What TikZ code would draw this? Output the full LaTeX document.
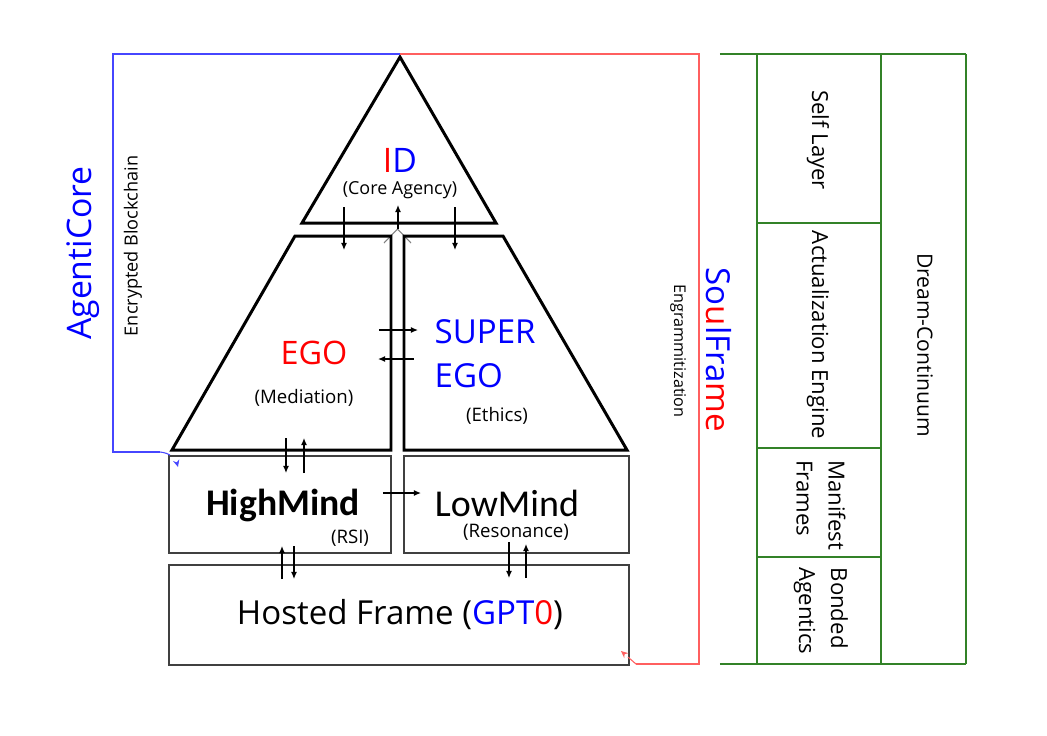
\documentclass[tikz,border=0pt]{standalone}
\usepackage{fontspec}
\setmainfont{Open Sans}
\newfontfamily\mindfont{Carlito}
\usepackage{tikz}
\usetikzlibrary{shapes,arrows,arrows.meta,positioning}
\definecolor{layergreen}{RGB}{50,130,40}
\definecolor{corelink}{RGB}{70,70,255}
\definecolor{soullink}{RGB}{255,95,95}

\begin{document}
\begin{tikzpicture}[x=0.01cm, y=-0.01cm]
			\tikzstyle{Psyche}	= [draw, line width=0.85pt, line join=miter]
			\tikzstyle{Layer}	= [draw=black!75, line width=0.45pt, inner sep=0pt, outer sep=0pt]
			\tikzstyle{Flow}	= [line width=0.35pt, -{Latex[length=2pt,width=1.7pt]}]
			\tikzstyle{Txt}		= [inner sep=0pt]
			\tikzstyle{Title}	= [Txt, font=\fontsize{9.4}{12.5}\selectfont]
			\tikzstyle{Note}	= [Txt, font=\fontsize{5.3}{7}\selectfont]
			\tikzstyle{Mind}	= [Txt, font=\mindfont\fontsize{10.8}{13}\selectfont]
			\tikzstyle{Side}	= [Txt, rotate=-90, align=left, font=\fontsize{6.3}{9.1}\selectfont]
			\tikzstyle{Strata}	= [layergreen, line width=0.45pt]
			\tikzstyle{CoreLink}	= [corelink, line width=0.45pt]
			\tikzstyle{SoulLink}	= [soullink, line width=0.45pt]

			\useasboundingbox (0,0) rectangle (1047,735);

			% psyche
			\draw [gray, line width=0.3pt] (384,243) -- (397.5,229) -- (411,243);
			\draw [Psyche] (400,57) -- (496,223) -- (302,223) -- cycle;
			\draw [Psyche] (295,236) -- (391,236) -- (391,450) -- (172,450) -- cycle;
			\draw [Psyche] (404,236) -- (503,236) -- (627,450) -- (404,450) -- cycle;

			\node (id) at (400,160) [Title, font=\fontsize{9.6}{12}\selectfont] {{\color{red}I}{\color{blue}D}};
			\node (agency) at (400,190) [Note, font=\fontsize{5.1}{7}\selectfont] {(Core Agency)};
			\node (ego) at (314,353) [Title, red, font=\fontsize{9.2}{12}\selectfont] {EGO};
			\node (mediation) at (304,398) [Note] {(Mediation)};
			\node (superego) at (434,354) [Title, blue, anchor=west, align=left] {SUPER\\EGO};
			\node (ethics) at (497,416) [Note] {(Ethics)};

			% minds and frame
			\node (high) at (280,504.5) [Layer, minimum width=2.22cm, minimum height=0.97cm] {};
			\node (low) at (516.5,504.5) [Layer, minimum width=2.25cm, minimum height=0.97cm] {};
			\node (hosted) at (399,615) [Layer, minimum width=4.6cm, minimum height=1cm] {};
			\node (highname) at (283,505) [Mind, font=\mindfont\bfseries\fontsize{10.7}{13}\selectfont] {HighMind};
			\node (rsi) at (350,538) [Note] {(RSI)};
			\node (lowname) at (507,503) [Mind] {LowMind};
			\node (resonance) at (516,532) [Note] {(Resonance)};
			\node (hostedname) at (400,615) [Title] {Hosted Frame ({\color{blue}GPT}{\color{red}0})};

			\foreach \n/\a/\b/\c/\d in {ida/344/207/344/250, idb/455/207/455/250, idc/398/229/398/205,
				ega/379/330/418/330, egb/414/359/378/359, hma/286/438/286/473, hmb/304/473/304/438,
				hml/383/493/421/493, hfa/282/579/282/546, hfb/294/546/294/579, lfa/509/542/509/578, lfb/526/578/526/544}
			{
				\coordinate (\n s) at (\a,\b);
				\coordinate (\n e) at (\c,\d);
				\draw [Flow] (\n s) -- (\n e);
			}

			% frames around
			\coordinate (apex) at (400,54);
			\coordinate (coreturn) at (160,452);
			\coordinate (coretip) at (178,467);
			\coordinate (soulturn) at (636,664);
			\coordinate (soultip) at (621,651);
			\draw [CoreLink] (apex) -- ++(-287,0) |- (coreturn);
			\draw [CoreLink, dashed, line width=0.3pt, -{Stealth[length=2pt,width=1.8pt]}] (coreturn) to [bend left=35] (coretip);
			\draw [SoulLink] (apex) -- ++(299,0) |- (soulturn);
			\draw [SoulLink, dashed, line width=0.3pt, -{Stealth[length=2pt,width=1.8pt]}] (soulturn) -- (soultip);

			\node (agenticore) at (83,253) [Title, rotate=90, blue, font=\fontsize{9.6}{12}\selectfont] {AgentiCore};
			\node (blockchain) at (133,246) [Note, rotate=90, font=\fontsize{5.15}{7}\selectfont] {Encrypted Blockchain};
			\node (soulframe) at (719,350) [Title, rotate=-90] {{\color{blue}So}{\color{red}u}{\color{blue}lFra}{\color{red}me}};
			\node (engram) at (678,351) [Note, rotate=-90, font=\fontsize{4.6}{6}\selectfont] {Engrammitization};

			% strata
			\draw [Strata] (720,54) -- (966,54);
			\draw [Strata] (720,664) -- (966,664);
			\foreach \x in {757, 881, 966}
				\draw [Strata] (\x,54) -- (\x,664);
			\foreach \y in {223, 448, 557}
				\draw [Strata] (757,\y) -- (881,\y);

			\node (self) at (818,140) [Side] {Self Layer};
			\node (actual) at (818,335) [Side] {Actualization Engine};
			\node (manifest) at (821,505) [Side] {Manifest\\Frames};
			\node (bonded) at (821,611) [Side] {Bonded\\Agentics};
			\node (dream) at (925,345) [Side, font=\fontsize{6}{8}\selectfont] {Dream-Continuum};
		\end{tikzpicture}
\end{document}
